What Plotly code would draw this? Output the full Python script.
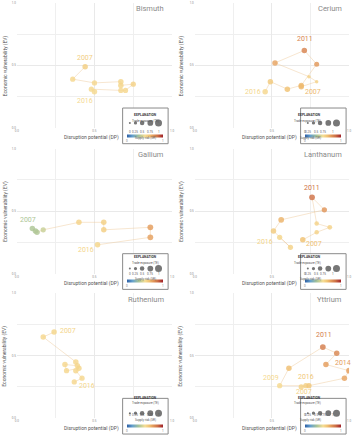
import plotly.graph_objects as go

W, H = 356, 440

# ---------------- data ----------------
minerals = ["Bismuth", "Cerium", "Gallium", "Lanthanum", "Ruthenium", "Yttrium"]
years = [2007, 2008, 2009, 2010, 2011, 2012, 2013, 2014, 2015, 2016]

bismuth_dp = [0.44, 0.36, 0.50, 0.67, 0.67, 0.75, 0.70, 0.67, 0.48, 0.50]
bismuth_ev = [0.49, 0.39, 0.36, 0.37, 0.34, 0.35, 0.30, 0.30, 0.31, 0.29]
bismuth_sr = [0.57, 0.53, 0.53, 0.54, 0.54, 0.55, 0.53, 0.53, 0.52, 0.52]
bismuth_te = [0.70, 0.65, 0.65, 0.70, 0.70, 0.65, 0.65, 0.65, 0.65, 0.70]

cerium_dp = [0.69, 0.79, 0.74, 0.52, 0.71, 0.79, 0.69, 0.60, 0.49, 0.456]
cerium_ev = [0.33, 0.37, 0.41, 0.52, 0.62, 0.51, 0.34, 0.31, 0.37, 0.29]
cerium_sr = [0.64, 0.55, 0.55, 0.70, 0.79, 0.73, 0.64, 0.62, 0.59, 0.53]
cerium_te = [0.70, 0.30, 0.30, 0.70, 0.70, 0.60, 0.70, 0.70, 0.70, 0.70]

gallium_dp = [0.10, 0.12, 0.13, 0.17, 0.40, 0.56, 0.56, 0.86, 0.86, 0.52]
gallium_ev = [0.36, 0.34, 0.33, 0.35, 0.41, 0.41, 0.35, 0.37, 0.29, 0.23]
gallium_sr = [0.34, 0.34, 0.35, 0.40, 0.55, 0.56, 0.57, 0.72, 0.71, 0.54]
gallium_te = [0.70, 0.70, 0.70, 0.65, 0.70, 0.70, 0.70, 0.75, 0.75, 0.70]

lanthanum_dp = [0.70, 0.79, 0.875, 0.79, 0.76, 0.84, 0.56, 0.51, 0.62, 0.55]
lanthanum_ev = [0.27, 0.33, 0.37, 0.40, 0.61, 0.51, 0.43, 0.34, 0.21, 0.29]
lanthanum_sr = [0.62, 0.55, 0.55, 0.55, 0.84, 0.74, 0.66, 0.58, 0.55, 0.54]
lanthanum_te = [0.70, 0.50, 0.55, 0.50, 0.75, 0.65, 0.75, 0.70, 0.65, 0.65]

ruthenium_dp = [0.24, 0.17, 0.38, 0.39, 0.31, 0.32, 0.40, 0.38, 0.42, 0.37]
ruthenium_ev = [0.69, 0.65, 0.45, 0.42, 0.43, 0.38, 0.40, 0.38, 0.32, 0.29]
ruthenium_sr = [0.54, 0.53, 0.53, 0.53, 0.53, 0.53, 0.54, 0.53, 0.53, 0.53]
ruthenium_te = [0.70, 0.70, 0.70, 0.70, 0.70, 0.65, 0.70, 0.70, 0.65, 0.65]

yttrium_dp = [0.69, 0.72, 0.55, 0.61, 0.83, 0.92, 0.85, 1.00, 0.97, 0.74]
yttrium_ev = [0.25, 0.26, 0.26, 0.40, 0.57, 0.52, 0.43, 0.38, 0.32, 0.26]
yttrium_sr = [0.55, 0.56, 0.52, 0.63, 0.81, 0.78, 0.72, 0.72, 0.70, 0.60]
yttrium_te = [0.65, 0.65, 0.65, 0.70, 0.75, 0.70, 0.70, 0.75, 0.70, 0.65]

labelled_years = {
    "Bismuth": [2007, 2016],
    "Cerium": [2011, 2007, 2016],
    "Gallium": [2007, 2016],
    "Lanthanum": [2011, 2016, 2007],
    "Ruthenium": [2007, 2016],
    "Yttrium": [2011, 2014, 2009, 2016, 2007],
}

te_legend_vals = [0, 0.25, 0.5, 0.75, 1]
te_legend_text = ["0", "0.25", "0.5", "0.75", "1"]

series = {
    "Bismuth": (bismuth_dp, bismuth_ev, bismuth_sr, bismuth_te),
    "Cerium": (cerium_dp, cerium_ev, cerium_sr, cerium_te),
    "Gallium": (gallium_dp, gallium_ev, gallium_sr, gallium_te),
    "Lanthanum": (lanthanum_dp, lanthanum_ev, lanthanum_sr, lanthanum_te),
    "Ruthenium": (ruthenium_dp, ruthenium_ev, ruthenium_sr, ruthenium_te),
    "Yttrium": (yttrium_dp, yttrium_ev, yttrium_sr, yttrium_te),
}

# ---------------- styles ----------------
CS_STOPS = [
    (0.00, (45, 95, 165)),
    (0.15, (100, 160, 205)),
    (0.33, (168, 196, 150)),
    (0.50, (246, 222, 150)),
    (0.62, (240, 194, 115)),
    (0.72, (228, 156, 92)),
    (0.85, (205, 112, 70)),
    (1.00, (160, 32, 40)),
]
CS = [[p, "rgb(%d,%d,%d)" % c] for p, c in CS_STOPS]


def cs_color(v):
    for (p0, c0), (p1, c1) in zip(CS_STOPS[:-1], CS_STOPS[1:]):
        if p0 <= v <= p1:
            t = (v - p0) / (p1 - p0)
            return "rgb(%d,%d,%d)" % tuple(round(a + (b - a) * t) for a, b in zip(c0, c1))
    return "rgb(%d,%d,%d)" % CS_STOPS[-1][1]


def te_size(t):
    return 2 + 5 * t


# label pixel offsets (xshift, yshift) per mineral/year
label_offsets = {
    ("Bismuth", 2007): (0, 9), ("Bismuth", 2016): (-9, -9),
    ("Cerium", 2011): (1, 11), ("Cerium", 2007): (12, -5), ("Cerium", 2016): (-12, 0),
    ("Gallium", 2007): (-4, 9), ("Gallium", 2016): (-12, -5),
    ("Lanthanum", 2011): (0, 9), ("Lanthanum", 2016): (-15, -5), ("Lanthanum", 2007): (11, -4),
    ("Ruthenium", 2007): (14, 1), ("Ruthenium", 2016): (13, -4),
    ("Yttrium", 2011): (1, 12), ("Yttrium", 2014): (-6, 8), ("Yttrium", 2009): (-9, 8),
    ("Yttrium", 2016): (-3, 9), ("Yttrium", 2007): (3, -5.5),
}

col_x = [(15, 172), (195, 351)]
col_off = [0, 180]
row_off = [0, 147, 293]
row_top = [1, 148, 294]
PH = 126

fig = go.Figure()
layout = dict(
    width=W, height=H, margin=dict(l=0, r=0, t=0, b=0),
    paper_bgcolor="white", plot_bgcolor="white", showlegend=False,
    font=dict(family="Roboto, Arial, sans-serif"),
)
annotations = []
shapes = []


def px(x):
    return x / W


def py(y):
    return 1 - y / H


for i, m in enumerate(minerals):
    r, c = divmod(i, 2)
    n = "" if i == 0 else str(i + 1)
    xa, ya = "x" + n, "y" + n
    dp, ev, sr, te = series[m]
    top = row_top[r]
    ax_common = dict(
        range=[0, 1], showgrid=True, gridcolor="#e9e9e9", gridwidth=1,
        zeroline=False, showline=False, ticks="",
        tickvals=[0, 0.5, 1], ticktext=["0.0", "0.5", "1.0"],
        tickfont=dict(size=3, color="#8c8c8c"),
        minor=dict(tickvals=[0.25, 0.75], showgrid=True, gridcolor="#efefef"),
        fixedrange=True,
    )
    layout["xaxis" + n] = dict(ax_common, domain=[px(col_x[c][0]), px(col_x[c][1])],
                               anchor=ya)
    layout["yaxis" + n] = dict(ax_common, domain=[py(top + PH), py(top)], anchor=xa)

    ox, oy = col_off[c], row_off[r]
    bx, by = 122 + ox, 107 + oy

    fig.add_trace(go.Scatter(
        x=dp, y=ev, xaxis=xa, yaxis=ya, mode="lines+markers",
        text=[str(y) for y in years],
        line=dict(color="rgba(238,200,150,0.45)", width=1),
        marker=dict(
            size=[te_size(t) for t in te], color=sr, colorscale=CS, cmin=0, cmax=1,
            opacity=0.82, line=dict(width=0),
            showscale=True,
            colorbar=dict(
                orientation="h", x=px(bx + 22.5), xanchor="center",
                y=py(by + 30), yanchor="middle", len=36, lenmode="pixels",
                thickness=3, outlinewidth=0, xpad=0, ypad=0,
                tickvals=[0, 1], ticktext=["0", "1"], ticks="",
                tickfont=dict(size=3, color="#777"),
            ),
        ),
        hoverinfo="skip",
    ))

    # year labels
    for yr in labelled_years[m]:
        k = years.index(yr)
        xs, ys = label_offsets[(m, yr)]
        annotations.append(dict(
            x=dp[k], y=ev[k], xref=xa, yref=ya, text=str(yr), showarrow=False,
            xshift=xs, yshift=ys, font=dict(size=7, color=cs_color(sr[k])),
        ))

    # panel title
    annotations.append(dict(
        x=px(166 + ox), y=py(7 + oy), xref="paper", yref="paper", text=m,
        showarrow=False, xanchor="right", yanchor="middle",
        font=dict(size=7.5, color="#8a8a8a"),
    ))
    # axis titles
    annotations.append(dict(
        x=px(91 + ox), y=py(137 + oy), xref="paper", yref="paper",
        text="Disruption potential (DP)", showarrow=False,
        xanchor="center", yanchor="middle", font=dict(size=5, color="#555"),
    ))
    annotations.append(dict(
        x=px(3 + ox - (2 if c else 0)), y=py(64 + oy), xref="paper", yref="paper",
        text="Economic vulnerability (EV)", showarrow=False, textangle=-90,
        xanchor="center", yanchor="middle", font=dict(size=5, color="#555"),
    ))

    # explanation box
    shapes.append(dict(
        type="rect", xref="paper", yref="paper", layer="above",
        x0=px(bx), x1=px(bx + 46), y0=py(by + 36), y1=py(by),
        fillcolor="white", line=dict(color="#8a8a8a", width=1),
    ))
    annotations.append(dict(
        x=px(bx + 23), y=py(by + 3.5), xref="paper", yref="paper",
        text="<b>EXPLANATION</b>", showarrow=False, font=dict(size=3.3, color="#333"),
    ))
    annotations.append(dict(
        x=px(bx + 23), y=py(by + 9), xref="paper", yref="paper",
        text="Trade exposure (TE)", showarrow=False, font=dict(size=3, color="#555"),
    ))
    annotations.append(dict(
        x=px(bx + 23), y=py(by + 26), xref="paper", yref="paper",
        text="Supply risk (SR)", showarrow=False, font=dict(size=3, color="#555"),
    ))
    cx_list = [7.3, 13, 19.7, 28, 36.3]
    for cx, tv, tt in zip(cx_list, te_legend_vals, te_legend_text):
        rr = te_size(tv) / 2
        shapes.append(dict(
            type="circle", xref="paper", yref="paper", layer="above",
            xsizemode="pixel", ysizemode="pixel",
            xanchor=px(bx + cx), yanchor=py(by + 15),
            x0=-rr, x1=rr, y0=-rr, y1=rr,
            fillcolor="#777", line=dict(width=0),
        ))
        annotations.append(dict(
            x=px(bx + cx), y=py(by + 20.5), xref="paper", yref="paper",
            text=tt, showarrow=False, font=dict(size=3, color="#555"),
        ))

layout["annotations"] = annotations
layout["shapes"] = shapes
fig.update_layout(**layout)
fig.write_html(
    "out.html",
    config={"displayModeBar": False},
    post_script="document.body.style.margin='0';document.body.style.overflow='hidden';",
)
